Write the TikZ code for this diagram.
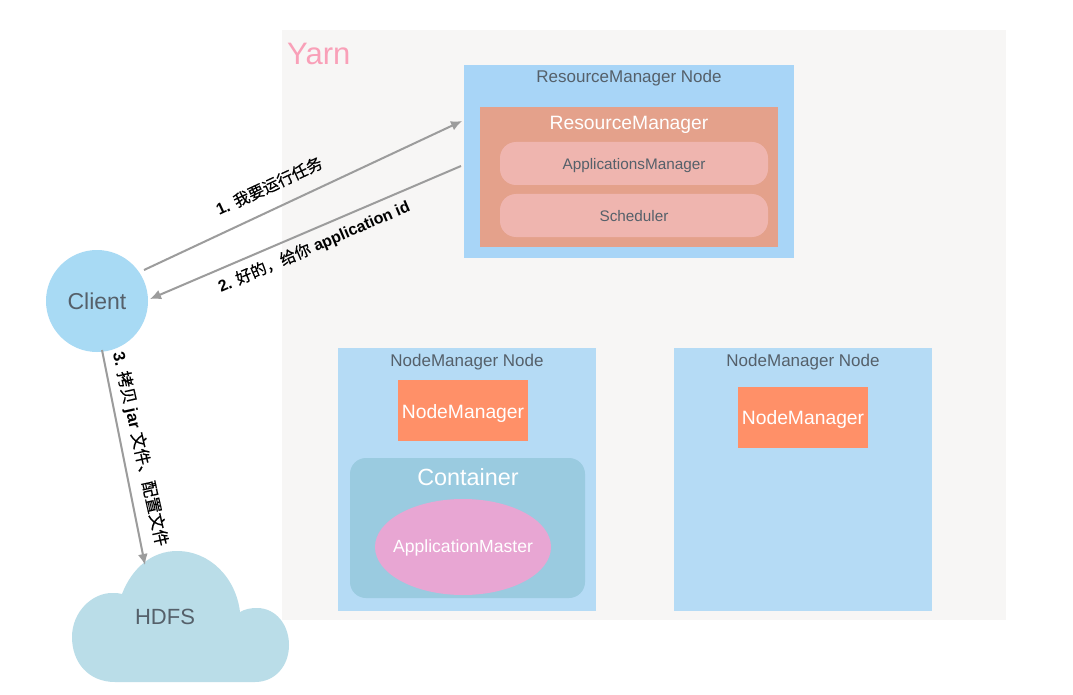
\documentclass[tikz,border=0pt]{standalone}
\usepackage{fontspec}
\setmainfont{Liberation Sans}
\newfontfamily\latb{Liberation Sans Bold}
\newfontfamily\cjk{Noto Sans CJK SC}[FakeBold=0.3]
\definecolor{bggray}{HTML}{F7F6F5}
\definecolor{rmblue}{HTML}{A8D5F7}
\definecolor{rmred}{HTML}{E4A18B}
\definecolor{pill}{HTML}{EFB5AF}
\definecolor{nmblue}{HTML}{B5DBF5}
\definecolor{nmorange}{HTML}{FF9068}
\definecolor{contblue}{HTML}{9ACBE0}
\definecolor{ampink}{HTML}{E8A6D3}
\definecolor{clientblue}{HTML}{A8DAF4}
\definecolor{cloudblue}{HTML}{BADDE8}
\definecolor{txtgray}{HTML}{55606A}
\definecolor{arrowgray}{HTML}{9C9C9C}
\definecolor{yarnpink}{HTML}{F9A0B8}
\usetikzlibrary{shapes.geometric,arrows.meta}
\tikzset{
  panel/.style={inner sep=0pt,outer sep=0pt,draw=none},
  titletext/.style={font=\fontsize{17}{19}\selectfont,text=txtgray,inner sep=0pt},
  whitetext/.style={font=\fontsize{19.3}{21}\selectfont,text=white,inner sep=0pt},
  darktext/.style={font=\fontsize{15.3}{17}\selectfont,text=txtgray,inner sep=0pt},
  msgarrow/.style={draw=arrowgray,line width=2pt,-{Latex[length=11pt,width=10pt]}},
  msgtext/.style={font=\fontsize{16}{18}\selectfont\latb,text=black,inner sep=0pt},
}
\begin{document}
\begin{tikzpicture}[x=1pt,y=-1pt]
\useasboundingbox[fill=white] (0,0) rectangle (1073,695);
\node[panel,fill=bggray,minimum width=724pt,minimum height=590pt] (yarn) at (644,325) {};
\node[anchor=west,inner sep=0pt,font=\fontsize{31}{33}\selectfont,text=yarnpink] (yarnlabel) at (287,54) {Yarn};
% ResourceManager
\node[panel,fill=rmblue,minimum width=330pt,minimum height=193pt] (rmnode) at (629,161.5) {};
\node[titletext] (rmtitle) at (629,78.5) {ResourceManager Node};
\node[panel,fill=rmred,minimum width=298pt,minimum height=140pt] (rm) at (629,177) {};
\node[whitetext] (rmlabel) at (629,125) {ResourceManager};
\node[panel,fill=pill,rounded corners=16pt,minimum width=268pt,minimum height=43pt] (am) at (634,163.5) {};
\node[darktext] (amlabel) at (634,165.5) {ApplicationsManager};
\node[panel,fill=pill,rounded corners=16pt,minimum width=268pt,minimum height=43pt] (sched) at (634,215.5) {};
\node[darktext] (schedlabel) at (634,216) {Scheduler};
% NodeManager 1
\node[panel,fill=nmblue,minimum width=258pt,minimum height=263pt] (nm1) at (467,479.5) {};
\node[titletext] (nm1title) at (467,362.5) {NodeManager Node};
\node[panel,fill=nmorange,minimum width=130pt,minimum height=61pt] (nm1box) at (463,410.5) {};
\node[whitetext] (nm1label) at (463,413.5) {NodeManager};
\node[panel,fill=contblue,rounded corners=16pt,minimum width=235pt,minimum height=140pt] (cont) at (467.5,528) {};
\node[inner sep=0pt,text=white,font=\fontsize{23.4}{25}\selectfont] (contlabel) at (468,477) {Container};
\node[panel,ellipse,fill=ampink,minimum width=176pt,minimum height=96pt] (appm) at (463,547) {};
\node[inner sep=0pt,text=white,font=\fontsize{17.6}{19}\selectfont] (appmlabel) at (463,547.5) {ApplicationMaster};
% NodeManager 2
\node[panel,fill=nmblue,minimum width=258pt,minimum height=263pt] (nm2) at (803,479.5) {};
\node[titletext] (nm2title) at (803,362.5) {NodeManager Node};
\node[panel,fill=nmorange,minimum width=130pt,minimum height=61pt] (nm2box) at (803,417.5) {};
\node[whitetext] (nm2label) at (803,419.5) {NodeManager};
% Client
\node[panel,circle,fill=clientblue,minimum size=102pt] (client) at (97,301) {};
\node[inner sep=0pt,text=txtgray,font=\fontsize{23}{25}\selectfont] (clientlabel) at (97,301) {Client};
% Cloud
\fill[cloudblue] (115,682)
  .. controls (88,682) and (72,662) .. (72,637)
  .. controls (72,612) and (92,593) .. (112,593)
  .. controls (116,593) and (119,593) .. (122,594)
  .. controls (132,568) and (152,551) .. (177,551)
  .. controls (210,551) and (236,578) .. (240,612)
  .. controls (245,609) and (251,608) .. (257,608)
  .. controls (276,608) and (289,625) .. (289,645)
  .. controls (289,666) and (275,682) .. (255,682)
  -- cycle;
\node[inner sep=0pt,text=txtgray,font=\fontsize{22}{24}\selectfont] (hdfs) at (165,617) {HDFS};
% Connector ends
\coordinate (reqstart) at (144,270);
\coordinate (reqend) at (462,121);
\coordinate (respstart) at (461,166);
\coordinate (respend) at (150,299);
\coordinate (copystart) at (102,350);
\coordinate (cloudtop) at (145,565);
\draw[msgarrow] (reqstart) -- (reqend);
\draw[msgarrow] (respstart) -- (respend);
\draw[msgarrow] (copystart) -- (cloudtop);
% Labels
\node[msgtext,rotate=25] (m1) at (269,186) {1. {\cjk 我要运行任务}};
\node[msgtext,rotate=23.3] (m2) at (314,247) {2. {\cjk 好的，给你} application id};
\node[msgtext,rotate=-77.3,font=\fontsize{16.6}{18}\selectfont\latb] (m3) at (140,449) {3. {\cjk 拷贝} jar {\cjk 文件、配置文件}};
\end{tikzpicture}
\end{document}
